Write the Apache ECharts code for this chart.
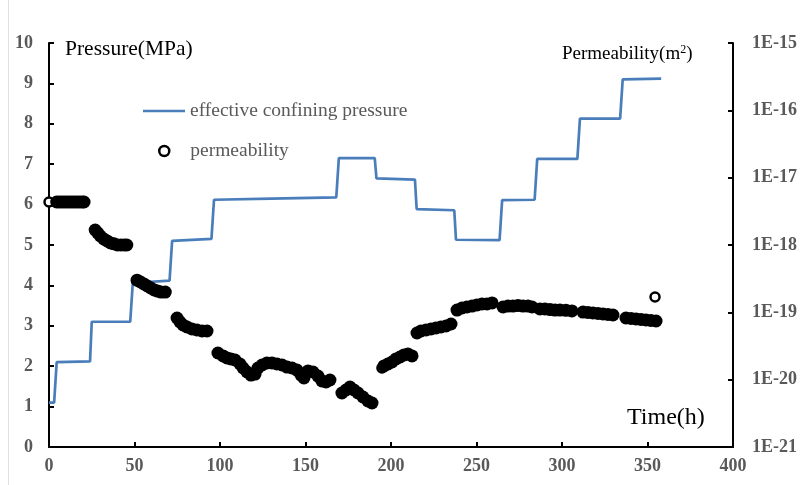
<!DOCTYPE html>
<html>
<head>
<meta charset="utf-8">
<script src="https://cdn.jsdelivr.net/npm/echarts@6/dist/echarts.min.js"></script>
<style>
  html, body { margin: 0; padding: 0; background: #fff; }
  #chart { width: 804px; height: 485px; }
</style>
</head>
<body>
<div id="chart"></div>
<script>
// Effective confining pressure (MPa) at the corners of each loading step
const timeP = [0, 3, 4.5, 24, 25, 47.5, 49, 70.5, 72, 95, 96.5, 130, 168, 169.5, 190.5, 191.5,
  214, 215, 237, 238, 263.5, 265, 284, 285.5, 309, 310.5, 334, 335.5, 358];
const pressure = [1.1, 1.1, 2.1, 2.12, 3.1, 3.1, 4.06, 4.12, 5.1, 5.15, 6.12, 6.15, 6.18, 7.15, 7.15, 6.65,
  6.62, 5.89, 5.86, 5.13, 5.12, 6.11, 6.12, 7.13, 7.13, 8.13, 8.13, 9.1, 9.12];

// Measured permeability (m^2), filled markers
const timeK = [
  4.5, 6, 7.5, 9, 10.5, 12, 13.5, 15, 16.5, 18, 19.5, 20.5,
  27, 28.5, 30, 32, 34, 36, 38, 40, 42, 44, 45.5,
  51.5, 53.5, 55.5, 57.5, 59.5, 61.5, 63.5, 65.5, 68,
  74.9, 76.6, 78.4, 80.7, 83.6, 86.5, 89.5, 92.4,
  98.8, 101.8, 104.1, 106.4, 108.8, 111.7, 113.5, 115.8, 118.1, 120.5, 122.2, 124.6, 127.5, 130.4,
  133.3, 136.3, 139.2, 142.1, 145, 147.4, 149.1, 151.5, 154.4, 157.3, 159.6, 162, 164.3,
  171.3, 173.7, 176, 178.4, 180.7, 183.6, 186.5, 188.9,
  195.9, 198.2, 200.6, 202.9, 205.3, 207.6, 209.9, 212.3,
  215.2, 217.5, 220.5, 223.4, 226.3, 229.2, 232.2, 235.1,
  238.6, 241.5, 244.4, 247.4, 250.3, 253.2, 256.1, 259.1,
  265.5, 268.4, 271.3, 274.3, 277.2, 280.1, 282.5,
  287.1, 290, 293, 295.9, 298.8, 302.3, 305.8,
  312.3, 315.2, 318.1, 321.1, 324, 326.9, 329.8,
  337.4, 340.4, 343.3, 346.2, 349.1, 352, 355
];
const permeability = [
  4.35e-18, 4.35e-18, 4.35e-18, 4.35e-18, 4.35e-18, 4.35e-18, 4.35e-18, 4.35e-18, 4.35e-18, 4.35e-18, 4.35e-18, 4.35e-18,
  1.67e-18, 1.51e-18, 1.36e-18, 1.23e-18, 1.15e-18, 1.07e-18, 1.04e-18, 1.0e-18, 1.0e-18, 1.0e-18, 1.0e-18,
  3.0e-19, 2.82e-19, 2.64e-19, 2.46e-19, 2.30e-19, 2.15e-19, 2.07e-19, 2.0e-19, 2.0e-19,
  8.24e-20, 7.19e-20, 6.49e-20, 6.06e-20, 5.66e-20, 5.47e-20, 5.28e-20, 5.28e-20,
  2.49e-20, 2.25e-20, 2.10e-20, 2.03e-20, 1.96e-20, 1.71e-20, 1.49e-20, 1.30e-20, 1.17e-20, 1.21e-20, 1.49e-20, 1.65e-20, 1.77e-20, 1.77e-20,
  1.71e-20, 1.65e-20, 1.54e-20, 1.49e-20, 1.39e-20, 1.17e-20, 1.06e-20, 1.35e-20, 1.30e-20, 1.13e-20, 9.55e-21, 9.23e-21, 9.89e-21,
  6.34e-21, 7.03e-21, 7.78e-21, 7.03e-21, 6.34e-21, 5.53e-21, 4.82e-21, 4.5e-21,
  1.60e-20, 1.71e-20, 1.83e-20, 2.03e-20, 2.17e-20, 2.33e-20, 2.40e-20, 2.25e-20,
  4.93e-20, 5.28e-20, 5.47e-20, 5.66e-20, 5.85e-20, 6.06e-20, 6.27e-20, 6.71e-20,
  1.08e-19, 1.16e-19, 1.20e-19, 1.24e-19, 1.29e-19, 1.33e-19, 1.33e-19, 1.38e-19,
  1.20e-19, 1.24e-19, 1.24e-19, 1.26e-19, 1.24e-19, 1.24e-19, 1.20e-19,
  1.12e-19, 1.12e-19, 1.10e-19, 1.08e-19, 1.08e-19, 1.07e-19, 1.05e-19,
  1.01e-19, 9.94e-20, 9.78e-20, 9.61e-20, 9.45e-20, 9.29e-20, 9.13e-20,
  8.24e-20, 8.10e-20, 7.96e-20, 7.82e-20, 7.69e-20, 7.56e-20, 7.44e-20
];

// Permeability readings shown as open circles
const timeKOpen = [0, 194.7, 354.4];
const permeabilityOpen = [4.35e-18, 1.49e-20, 1.69e-19];

// Right-axis range (m^2) and the unit the log axis works in, which keeps the
// numbers well inside the precision that the log scale rounds to
const kMin = 1e-21;
const kMax = 1e-15;
const kUnitExp = -21;
const toKUnit = k => k / kMin;

const serif = '"Liberation Serif", "Times New Roman", serif';
const tickGray = '#595959';
const lineBlue = '#4a7ebb';

const chart = echarts.init(document.getElementById('chart'), null, { renderer: 'canvas' });

const pairs = (xs, ys, f) => xs.map((x, i) => [x, f ? f(ys[i]) : ys[i]]);

const axisCommon = {
  axisLine: { show: true, lineStyle: { color: '#000', width: 2 } },
  axisTick: { show: true, inside: true, length: 5, lineStyle: { color: '#000', width: 2 } },
  splitLine: { show: false },
  axisLabel: { color: tickGray, fontFamily: serif, fontWeight: 'bold', fontSize: 18 }
};

chart.setOption({
  animation: false,
  backgroundColor: '#fff',
  grid: { left: 49, right: 71, top: 43, bottom: 38, containLabel: false },
  legend: [
    {
      left: 143, top: 101, padding: 0,
      itemWidth: 42, itemHeight: 2.5, itemGap: 0,
      textStyle: { color: tickGray, fontFamily: serif, fontSize: 19.5 },
      data: [{ name: 'effective confining pressure', icon: 'rect', itemStyle: { color: lineBlue } }]
    },
    {
      left: 158, top: 141, padding: 0,
      itemWidth: 42, itemHeight: 10, itemGap: 0,
      textStyle: { color: tickGray, fontFamily: serif, fontSize: 19.5 },
      data: [{ name: 'permeability', icon: 'circle',
        itemStyle: { color: '#fff', borderColor: '#000', borderWidth: 2.5, opacity: 1 } }]
    }
  ],
  xAxis: Object.assign({}, axisCommon, {
    type: 'value', min: 0, max: 400, interval: 50,
    axisLabel: Object.assign({}, axisCommon.axisLabel, { margin: 10 })
  }),
  yAxis: [
    Object.assign({}, axisCommon, {
      type: 'value', min: 0, max: 10, interval: 1, position: 'left',
      axisLabel: Object.assign({}, axisCommon.axisLabel, { margin: 16 })
    }),
    Object.assign({}, axisCommon, {
      type: 'log', logBase: 10, min: toKUnit(kMin), max: toKUnit(kMax), position: 'right',
      axisLabel: Object.assign({}, axisCommon.axisLabel, {
        margin: 19,
        formatter: v => '1E' + (Math.round(Math.log10(v)) + kUnitExp)
      })
    })
  ],
  graphic: [
    { type: 'line', shape: { x1: 8.5, y1: 0, x2: 8.5, y2: 485 }, style: { stroke: '#e0e0e0', lineWidth: 1 }, silent: true },
    { type: 'text', left: 65, top: 38, style: { text: 'Pressure(MPa)', font: '21.5px ' + serif, fill: '#000' } },
    { type: 'text', left: 562, top: 44, style: {
        text: '{a|Permeability(m}{s|2}{a|)}',
        rich: {
          a: { fontFamily: serif, fontSize: 19, color: '#000' },
          s: { fontFamily: serif, fontSize: 12, color: '#000', verticalAlign: 'top', padding: [0, 0, 8, 0] }
        }
      } },
    { type: 'text', left: 627, top: 406, style: { text: 'Time(h)', font: '24px ' + serif, fill: '#000' } }
  ],
  series: [
    {
      name: 'effective confining pressure',
      type: 'line',
      yAxisIndex: 0,
      data: pairs(timeP, pressure),
      symbol: 'none',
      lineStyle: { color: lineBlue, width: 2.7 },
      itemStyle: { color: lineBlue },
      z: 2
    },
    {
      name: 'permeability',
      type: 'scatter',
      yAxisIndex: 1,
      data: pairs(timeKOpen, permeabilityOpen, toKUnit),
      symbol: 'circle',
      symbolSize: 9,
      itemStyle: { color: '#fff', borderColor: '#000', borderWidth: 2.5, opacity: 1 },
      z: 3
    },
    {
      name: 'permeability',
      type: 'scatter',
      yAxisIndex: 1,
      data: pairs(timeK, permeability, toKUnit),
      symbol: 'circle',
      symbolSize: 13,
      itemStyle: { color: '#000', opacity: 1 },
      z: 4
    }
  ]
});
</script>
</body>
</html>
